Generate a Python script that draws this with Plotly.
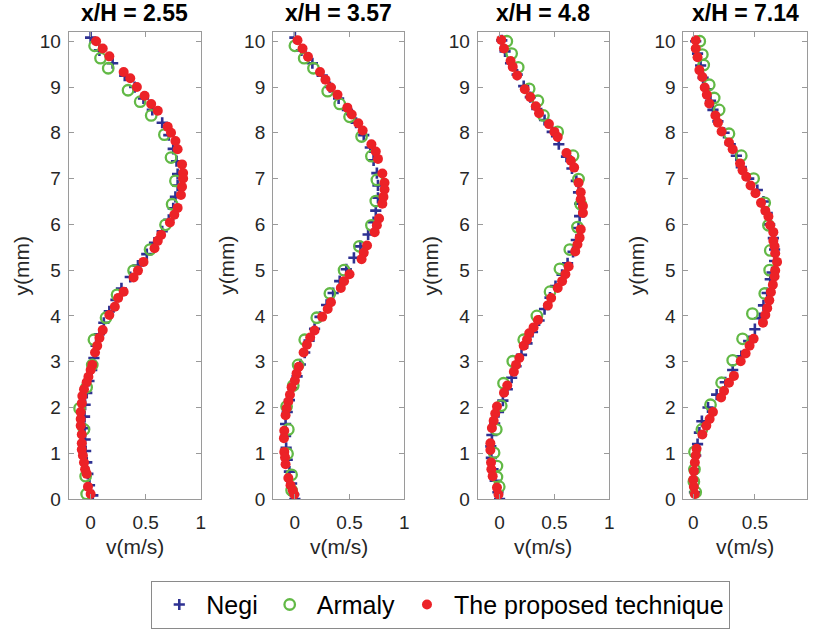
import plotly.graph_objects as go

# ---------------- data ----------------
titles = ["x/H = 2.55", "x/H = 3.57", "x/H = 4.8", "x/H = 7.14"]
series_names = ["Negi", "Armaly", "The proposed technique"]

# Panel 1 : x/H = 2.55
p1_negi_y = [10.08, 9.80, 9.52, 9.25, 9.00, 8.75, 8.50, 8.22, 7.95, 7.65, 7.38, 7.10, 6.85, 6.60, 6.35, 6.10,
             5.85, 5.60, 5.35, 5.10, 4.85, 4.60, 4.35, 4.10, 3.85, 3.60, 3.35, 3.08, 2.82, 2.58, 2.32, 2.06,
             1.80, 1.55, 1.30, 1.05, 0.80, 0.55, 0.30, 0.08]
p1_negi_v = [0.00, 0.08, 0.20, 0.31, 0.40, 0.48, 0.56, 0.65, 0.71, 0.75, 0.78, 0.79, 0.79, 0.77, 0.75, 0.71,
             0.65, 0.58, 0.51, 0.43, 0.36, 0.28, 0.23, 0.17, 0.12, 0.08, 0.05, 0.03, 0.01, -0.015, -0.035, -0.05,
             -0.055, -0.055, -0.05, -0.045, -0.035, -0.025, -0.01, 0.02]
p1_arm_y = [9.90, 9.63, 9.41, 8.93, 8.68, 8.38, 7.96, 7.46, 6.95, 6.44, 5.99, 5.45, 4.99, 4.46, 3.96, 3.48,
            2.93, 2.44, 1.98, 1.52, 0.50, 0.11]
p1_arm_v = [0.036, 0.09, 0.16, 0.34, 0.45, 0.55, 0.67, 0.73, 0.77, 0.74, 0.68, 0.54, 0.39, 0.24, 0.14, 0.03,
            0.015, -0.036, -0.10, -0.06, -0.045, -0.036]
p1_prop_y = [10.0, 9.84, 9.67, 9.33, 9.19, 9.0, 8.81, 8.63, 8.48, 8.13, 8.0, 7.82, 7.64, 7.31, 7.12, 7.0,
             6.82, 6.64, 6.36, 6.21, 6.04, 5.77, 5.64, 5.48, 5.18, 4.99, 4.84, 4.53, 4.39, 4.20, 4.02, 3.69,
             3.52, 3.35, 3.20, 2.93, 2.82, 2.67, 2.55, 2.40, 2.25, 2.09, 1.90, 1.75, 1.60, 1.41, 1.22, 1.08,
             0.95, 0.80, 0.65, 0.55, 0.27, 0.11]
p1_prop_v = [0.05, 0.11, 0.17, 0.30, 0.36, 0.42, 0.49, 0.55, 0.61, 0.70, 0.73, 0.77, 0.79, 0.83, 0.84, 0.84,
             0.83, 0.82, 0.79, 0.76, 0.72, 0.64, 0.61, 0.58, 0.48, 0.43, 0.39, 0.30, 0.25, 0.22, 0.17, 0.11,
             0.08, 0.06, 0.04, 0.015, 0.0, -0.02, -0.036, -0.06, -0.075, -0.08, -0.09, -0.09, -0.09, -0.08, -0.08, -0.08,
             -0.07, -0.06, -0.05, -0.036, -0.024, 0.0]

# Panel 2 : x/H = 3.57
p2_negi_y = [10.08, 9.80, 9.52, 9.25, 9.00, 8.75, 8.50, 8.22, 7.95, 7.68, 7.40, 7.12, 6.85, 6.58, 6.30, 6.05,
             5.78, 5.52, 5.27, 5.02, 4.76, 4.50, 4.24, 3.98, 3.72, 3.46, 3.20, 2.94, 2.68, 2.42, 2.16, 1.90,
             1.64, 1.38, 1.12, 0.86, 0.60, 0.34, 0.10, 0.0]
p2_negi_v = [0.00, 0.06, 0.16, 0.25, 0.32, 0.40, 0.48, 0.56, 0.63, 0.69, 0.72, 0.75, 0.76, 0.76, 0.74, 0.72,
             0.67, 0.60, 0.54, 0.47, 0.41, 0.35, 0.29, 0.23, 0.18, 0.13, 0.09, 0.05, 0.02, -0.02, -0.05, -0.07,
             -0.085, -0.085, -0.08, -0.07, -0.05, -0.03, -0.01, 0.0]
p2_arm_y = [9.90, 9.63, 9.41, 8.91, 8.63, 8.35, 7.92, 7.49, 6.97, 6.51, 5.98, 5.52, 5.0, 4.49, 3.96, 3.48,
            2.93, 2.48, 2.02, 1.52, 0.99, 0.53, 0.19]
p2_arm_v = [0.0, 0.085, 0.17, 0.30, 0.41, 0.50, 0.61, 0.70, 0.75, 0.74, 0.70, 0.59, 0.45, 0.32, 0.20, 0.09,
            0.03, -0.015, -0.076, -0.06, -0.067, -0.03, -0.03]
p2_prop_y = [10.02, 9.84, 9.66, 9.33, 9.16, 8.99, 8.83, 8.55, 8.40, 8.21, 8.05, 7.75, 7.59, 7.43, 7.11, 6.91,
             6.76, 6.60, 6.45, 6.13, 5.98, 5.83, 5.54, 5.38, 5.24, 4.91, 4.76, 4.61, 4.30, 4.15, 3.98, 3.68,
             3.53, 3.37, 3.20, 2.89, 2.74, 2.59, 2.44, 2.28, 2.13, 1.98, 1.83, 1.49, 1.33, 1.03, 0.91, 0.76,
             0.46, 0.30, 0.19, 0.10]
p2_prop_v = [0.024, 0.07, 0.12, 0.23, 0.28, 0.33, 0.39, 0.48, 0.52, 0.58, 0.62, 0.70, 0.74, 0.76, 0.80, 0.82,
             0.82, 0.81, 0.80, 0.77, 0.75, 0.73, 0.66, 0.63, 0.61, 0.50, 0.45, 0.42, 0.33, 0.30, 0.25, 0.18,
             0.14, 0.11, 0.08, 0.036, 0.015, 0.0, -0.03, -0.045, -0.06, -0.076, -0.085, -0.097, -0.10, -0.097, -0.09, -0.085,
             -0.06, -0.04, -0.02, -0.006]

# Panel 3 : x/H = 4.8
p3_negi_y = [10.02, 9.78, 9.52, 9.27, 9.02, 8.78, 8.52, 8.28, 8.02, 7.75, 7.48, 7.22, 6.95, 6.70, 6.45, 6.18,
             5.92, 5.66, 5.40, 5.15, 4.90, 4.65, 4.40, 4.15, 3.90, 3.65, 3.40, 3.15, 2.90, 2.65, 2.40, 2.15,
             1.90, 1.65, 1.40, 1.15, 0.90, 0.65, 0.40, 0.15, 0.0]
p3_negi_v = [0.02, 0.05, 0.10, 0.16, 0.22, 0.28, 0.34, 0.41, 0.48, 0.54, 0.61, 0.66, 0.70, 0.72, 0.73, 0.73,
             0.72, 0.70, 0.67, 0.62, 0.57, 0.51, 0.46, 0.41, 0.36, 0.30, 0.25, 0.20, 0.15, 0.11, 0.07, 0.03,
             -0.01, -0.045, -0.07, -0.08, -0.075, -0.06, -0.04, -0.015, 0.0]
p3_arm_y = [10.0, 9.73, 9.43, 8.96, 8.70, 8.38, 8.02, 7.50, 6.99, 6.44, 5.94, 5.45, 5.03, 4.53, 4.0, 3.48,
            3.01, 2.53, 2.04, 1.52, 1.01, 0.72, 0.48, 0.27]
p3_arm_v = [0.066, 0.11, 0.17, 0.27, 0.35, 0.40, 0.53, 0.67, 0.72, 0.74, 0.71, 0.64, 0.55, 0.46, 0.34, 0.22,
            0.12, 0.036, 0.015, -0.03, -0.05, -0.024, -0.024, -0.003]
p3_prop_y = [10.03, 9.84, 9.57, 9.44, 9.25, 8.95, 8.78, 8.58, 8.43, 8.19, 8.02, 7.91, 7.56, 7.39, 7.24, 6.91,
             6.70, 6.55, 6.40, 6.25, 5.89, 5.71, 5.56, 5.41, 5.08, 4.91, 4.76, 4.61, 4.39, 4.23, 3.91, 3.75,
             3.62, 3.48, 3.35, 3.08, 2.93, 2.78, 2.48, 2.32, 2.02, 1.87, 1.71, 1.55, 1.22, 1.07, 0.80, 0.65,
             0.50, 0.25, 0.10]
p3_prop_v = [0.015, 0.04, 0.10, 0.12, 0.16, 0.23, 0.28, 0.33, 0.36, 0.45, 0.50, 0.53, 0.61, 0.65, 0.68, 0.72,
             0.74, 0.74, 0.76, 0.76, 0.74, 0.73, 0.71, 0.69, 0.63, 0.60, 0.57, 0.53, 0.47, 0.44, 0.35, 0.31,
             0.27, 0.25, 0.22, 0.18, 0.15, 0.13, 0.07, 0.04, -0.024, -0.04, -0.054, -0.07, -0.084, -0.084, -0.078, -0.075,
             -0.063, -0.024, -0.01]

# Panel 4 : x/H = 7.14
p4_negi_y = [10.0, 9.73, 9.47, 9.2, 8.95, 8.7, 8.5, 8.25, 8.0, 7.75, 7.5, 7.25, 7.0, 6.75, 6.5, 6.25,
             6.0, 5.7, 5.45, 5.2, 4.95, 4.8, 4.5, 4.23, 3.95, 3.71, 3.45, 3.12, 2.82, 2.55, 2.28, 2.0,
             1.7, 1.45, 1.2, 0.95, 0.65, 0.4, 0.15]
p4_negi_v = [0.02, 0.035, 0.06, 0.08, 0.11, 0.14, 0.16, 0.2, 0.25, 0.3, 0.35, 0.39, 0.45, 0.52, 0.57, 0.6,
             0.62, 0.65, 0.66, 0.66, 0.64, 0.625, 0.6, 0.57, 0.54, 0.5, 0.45, 0.39, 0.32, 0.26, 0.19, 0.12,
             0.07, 0.05, 0.035, 0.02, 0.008, 0.005, 0.01]
p4_arm_y = [10.0, 9.71, 9.48, 9.05, 8.76, 8.5, 7.98, 7.5, 7.0, 6.47, 5.98, 5.43, 5.0, 4.49, 4.05, 3.5,
            3.03, 2.54, 2.06, 1.52, 1.03, 0.65, 0.38, 0.15]
p4_arm_v = [0.053, 0.074, 0.085, 0.13, 0.17, 0.21, 0.29, 0.39, 0.49, 0.58, 0.61, 0.625, 0.62, 0.58, 0.48, 0.40,
            0.32, 0.23, 0.14, 0.07, 0.01, 0.01, 0.005, 0.02]
p4_prop_y = [10.02, 9.84, 9.65, 9.37, 9.22, 8.99, 8.83, 8.64, 8.38, 8.22, 8.03, 7.79, 7.64, 7.33, 7.18, 7.04,
             6.85, 6.68, 6.47, 6.30, 6.17, 5.98, 5.83, 5.64, 5.52, 5.37, 5.18, 4.99, 4.86, 4.68, 4.52, 4.34,
             4.17, 4.02, 3.85, 3.50, 3.35, 3.18, 3.01, 2.69, 2.54, 2.36, 2.22, 1.90, 1.75, 1.60, 1.41, 1.10,
             0.95, 0.80, 0.61, 0.42, 0.27, 0.11]
p4_prop_v = [0.02, 0.02, 0.035, 0.05, 0.074, 0.093, 0.11, 0.13, 0.18, 0.20, 0.23, 0.29, 0.32, 0.38, 0.40, 0.43,
             0.465, 0.505, 0.55, 0.585, 0.61, 0.625, 0.65, 0.65, 0.66, 0.665, 0.68, 0.665, 0.66, 0.646, 0.63, 0.617,
             0.60, 0.585, 0.566, 0.49, 0.457, 0.425, 0.385, 0.33, 0.29, 0.25, 0.226, 0.16, 0.133, 0.106, 0.074, 0.027,
             0.02, 0.013, 0.005, 0.0, 0.005, 0.013]

x_ticks_by_panel = [[0, 0.5, 1], [0, 0.5, 1], [0, 0.5, 1], [0, 0.5]]
y_ticks = list(range(0, 11))

panels = [
    (p1_negi_v, p1_negi_y, p1_arm_v, p1_arm_y, p1_prop_v, p1_prop_y),
    (p2_negi_v, p2_negi_y, p2_arm_v, p2_arm_y, p2_prop_v, p2_prop_y),
    (p3_negi_v, p3_negi_y, p3_arm_v, p3_arm_y, p3_prop_v, p3_prop_y),
    (p4_negi_v, p4_negi_y, p4_arm_v, p4_arm_y, p4_prop_v, p4_prop_y),
]

# ---------------- layout / styling ----------------
W, H = 815, 631
FONT = "Liberation Sans, Arial, sans-serif"
BLUE, GREEN, RED = "#2E3192", "#62B946", "#EC2227"
AX = "#9a9a9a"
TXT = "#262626"

# pixel geometry of each axes box (left, right) and its x range
boxes = [(69.0, 202.0), (274.7, 406.7), (480.6, 613.0), (687.6, 811.6)]
x_ranges = [[-0.2, 1.0], [-0.2, 1.0], [-0.2, 1.0], [-0.08, 0.92]]
top_px, bot_px = 31.7, 507.7

def fx(p):
    return p / W

def fy(p):
    return 1 - p / H

fig = go.Figure()
for i, (nv, ny, av, ay, pv, py) in enumerate(panels):
    xa = "x" if i == 0 else f"x{i+1}"
    ya = "y" if i == 0 else f"y{i+1}"
    show = i == 0
    fig.add_trace(go.Scatter(x=nv, y=ny, mode="markers", name=series_names[0], xaxis=xa, yaxis=ya,
                             showlegend=show, legendrank=1,
                             marker=dict(symbol="cross-thin", size=8, color=BLUE,
                                         line=dict(color=BLUE, width=2.6))))
    fig.add_trace(go.Scatter(x=av, y=ay, mode="markers", name=series_names[1], xaxis=xa, yaxis=ya,
                             showlegend=show, legendrank=2,
                             marker=dict(symbol="circle-open", size=10.5, color=GREEN,
                                         line=dict(color=GREEN, width=2.3))))
    fig.add_trace(go.Scatter(x=pv, y=py, mode="markers", name=series_names[2], xaxis=xa, yaxis=ya,
                             showlegend=show, legendrank=3,
                             marker=dict(symbol="circle", size=10, color=RED, line=dict(width=0))))

layout = dict(
    width=W, height=H, autosize=False,
    margin=dict(l=0, r=0, t=0, b=0),
    paper_bgcolor="white", plot_bgcolor="white",
    font=dict(family=FONT, color=TXT, size=19),
    showlegend=True,
    legend=dict(orientation="h", x=443.5 / W, y=fy(591), xanchor="center", yanchor="top",
                bordercolor="#8a8a8a", borderwidth=1, bgcolor="white",
                font=dict(family=FONT, size=25, color="black"), itemwidth=44,
                traceorder="normal", tracegroupgap=0),
)

annotations = []
for i in range(4):
    xs = "xaxis" if i == 0 else f"xaxis{i+1}"
    ys = "yaxis" if i == 0 else f"yaxis{i+1}"
    l, r = boxes[i]
    layout[xs] = dict(domain=[fx(l), fx(r)], range=x_ranges[i], tickvals=x_ticks_by_panel[i],
                      ticks="inside", ticklen=5, tickcolor=AX, showline=True, linecolor=AX, linewidth=1,
                      mirror="ticks", showgrid=False, zeroline=False,
                      anchor="y" if i == 0 else f"y{i+1}",
                      tickfont=dict(size=19, color=TXT), ticklabelstandoff=6)
    layout[ys] = dict(domain=[fy(bot_px), fy(top_px)], range=[0, 10.2], tickvals=y_ticks,
                      ticks="inside", ticklen=5, tickcolor=AX, showline=True, linecolor=AX, linewidth=1,
                      mirror="ticks", showgrid=False, zeroline=False,
                      anchor="x" if i == 0 else f"x{i+1}",
                      tickfont=dict(size=19, color=TXT), ticklabelstandoff=3)
    cx = (l + r) / 2
    annotations.append(dict(text=f"<b>{titles[i]}</b>", x=fx(cx), y=fy(12), xref="paper", yref="paper",
                            xanchor="center", yanchor="middle", showarrow=False,
                            font=dict(family=FONT, size=23, color="black")))
    annotations.append(dict(text="v(m/s)", x=fx(cx), y=fy(556), xref="paper", yref="paper",
                            xanchor="center", yanchor="middle", showarrow=False,
                            font=dict(family=FONT, size=21, color=TXT)))
    annotations.append(dict(text="y(mm)", x=fx(l - 47), y=fy((top_px + bot_px) / 2), xref="paper", yref="paper",
                            xanchor="center", yanchor="middle", showarrow=False, textangle=-90,
                            font=dict(family=FONT, size=21, color=TXT)))
layout["annotations"] = annotations
fig.update_layout(**layout)

# remove the default 8px page margin so the figure sits at the window origin
fig.write_html("out.html", config={"displayModeBar": False},
               post_script="document.body.style.margin='0';document.body.style.overflow='hidden';")
